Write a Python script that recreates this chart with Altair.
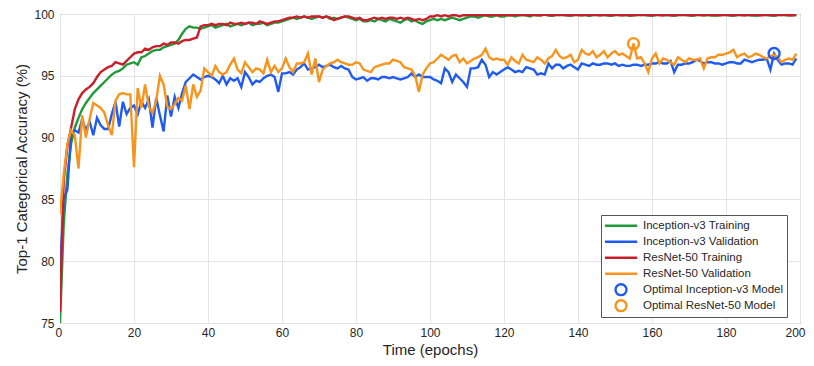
import altair as alt
import pandas as pd

epochs = list(range(200))

inc_train = [
    75.0, 83.0, 87.0, 89.5, 90.8, 91.6, 92.3, 92.8, 93.2, 93.6,
    93.9, 94.2, 94.5, 94.8, 95.1, 95.3, 95.4, 95.6, 95.9, 96.0,
    96.1, 95.9, 96.5, 96.6, 96.8, 97.0, 97.1, 97.1, 97.3, 97.4,
    97.5, 97.6, 97.9, 98.4, 98.8, 99.0, 98.9, 98.9, 98.8, 98.9,
    99.0, 99.1, 98.9, 99.0, 99.1, 99.2, 99.0, 99.1, 99.2, 99.1,
    99.2, 99.3, 99.1, 99.2, 99.2, 99.3, 99.1, 99.2, 99.3, 99.3,
    99.4, 99.5, 99.6, 99.7, 99.6, 99.7, 99.8, 99.7, 99.6, 99.7,
    99.8, 99.7, 99.8, 99.6, 99.7, 99.6, 99.7, 99.8, 99.7, 99.6,
    99.5, 99.6, 99.4, 99.4, 99.5, 99.4, 99.6, 99.5, 99.4, 99.6,
    99.5, 99.4, 99.3, 99.5, 99.6, 99.4, 99.5, 99.3, 99.2, 99.4,
    99.5, 99.6, 99.5, 99.6, 99.5, 99.6, 99.7, 99.6, 99.5, 99.6,
    99.7, 99.8, 99.8, 99.7, 99.8, 99.9, 99.8, 99.8, 99.9, 99.8,
    99.8, 99.9, 99.9, 99.8, 99.9, 99.9, 99.9, 99.8, 99.9, 99.9,
    99.9, 99.95, 99.9, 99.85, 99.9, 99.95, 99.9, 99.9, 99.85, 99.9,
    99.95, 99.9, 99.9, 99.85, 99.9, 99.95, 99.9, 99.9, 99.9, 99.85,
    99.9, 99.95, 99.9, 99.9, 99.85, 99.9, 99.9, 99.95, 99.9, 99.9,
    99.85, 99.9, 99.95, 99.9, 99.9, 99.9, 99.85, 99.9, 99.95, 99.9,
    99.9, 99.85, 99.9, 99.95, 99.9, 99.9, 99.9, 99.85, 99.9, 99.95,
    99.9, 99.9, 99.85, 99.9, 99.95, 99.9, 99.9, 99.9, 99.85, 99.9,
    99.95, 99.9, 99.9, 99.85, 99.9, 99.95, 99.9, 99.9, 99.9, 99.9,
]

res_train = [
    75.9, 86.5, 89.3, 90.8, 92.3, 93.1, 93.6, 93.9, 94.1, 94.4,
    94.9, 95.3, 95.5, 95.7, 95.8, 96.1, 96.0, 95.9, 96.2, 96.5,
    96.8, 96.9, 96.9, 97.2, 97.1, 97.3, 97.4, 97.4, 97.6, 97.5,
    97.7, 97.7, 97.6, 97.8, 97.9, 97.9, 98.0, 98.1, 99.0, 99.1,
    99.1, 99.2, 99.1, 99.2, 99.2, 99.1, 99.3, 99.2, 99.2, 99.3,
    99.2, 99.3, 99.3, 99.2, 99.4, 99.3, 99.2, 99.3, 99.4, 99.4,
    99.5, 99.6, 99.7, 99.7, 99.8, 99.7, 99.8, 99.7, 99.8, 99.8,
    99.8, 99.7, 99.8, 99.7, 99.5, 99.6, 99.7, 99.8, 99.8, 99.7,
    99.6, 99.7, 99.5, 99.5, 99.6, 99.7, 99.6, 99.7, 99.6, 99.7,
    99.7, 99.6, 99.7, 99.6, 99.7, 99.6, 99.5, 99.6, 99.5, 99.6,
    99.8, 99.8, 99.9, 99.8, 99.9, 99.8, 99.9, 99.9, 99.8, 99.9,
    99.9, 99.95, 99.9, 99.9, 99.95, 99.9, 99.9, 99.95, 99.9, 99.9,
    99.95, 99.9, 99.9, 99.95, 99.9, 99.95, 99.9, 99.9, 99.95, 99.9,
    99.9, 99.95, 99.9, 99.9, 99.95, 99.9, 99.95, 99.9, 99.9, 99.95,
    99.9, 99.9, 99.95, 99.9, 99.95, 99.9, 99.9, 99.95, 99.9, 99.9,
    99.95, 99.9, 99.9, 99.95, 99.9, 99.9, 99.95, 99.9, 99.95, 99.9,
    99.9, 99.95, 99.9, 99.9, 99.95, 99.9, 99.9, 99.95, 99.9, 99.95,
    99.9, 99.9, 99.95, 99.9, 99.9, 99.95, 99.9, 99.95, 99.9, 99.9,
    99.95, 99.9, 99.9, 99.95, 99.9, 99.9, 99.95, 99.9, 99.95, 99.9,
    99.9, 99.95, 99.9, 99.9, 99.95, 99.9, 99.95, 99.9, 99.9, 99.95,
]

inc_val = [
    79.3, 85.0, 85.8, 90.3, 90.6, 90.4, 91.5, 90.6, 91.3, 90.2,
    91.6, 91.0, 90.7, 90.7, 91.9, 92.9, 90.9, 92.9, 91.9, 92.4,
    92.6, 91.9, 92.9, 92.4, 93.1, 90.8, 93.2, 91.8, 90.5, 93.4,
    91.7, 93.3, 92.4, 93.6, 94.5, 94.8, 95.1, 94.9, 94.7, 94.9,
    95.0, 94.9, 94.7, 94.4, 95.0, 94.3, 94.8, 94.6, 94.8, 94.1,
    95.3, 94.9, 94.3, 94.6, 94.5, 94.8, 95.0, 95.1, 94.9, 93.7,
    95.2, 95.2, 95.3, 95.1, 95.5, 95.7, 96.0, 95.5, 95.6, 95.7,
    95.9, 95.7, 95.8, 95.9, 95.7, 95.6, 95.8, 95.6, 95.5, 94.9,
    94.7, 94.8, 94.9, 94.6, 94.8, 94.8, 94.7, 94.9, 94.9, 94.8,
    94.9, 94.8, 94.7, 94.8, 94.9, 95.2, 94.9, 95.1, 94.9, 94.9,
    94.9, 94.7, 94.6, 94.4, 95.6, 95.3, 94.5, 95.1, 94.8, 94.5,
    94.1, 95.6, 95.6, 95.7, 96.3, 95.9, 94.9, 95.3, 95.1, 95.3,
    95.5, 95.7, 95.5, 95.3, 95.4, 95.3, 95.7, 95.6, 95.5, 95.1,
    95.2, 95.1, 96.0, 95.6, 95.9, 95.9, 95.6, 95.8, 95.9, 95.7,
    95.5, 96.0, 95.9, 95.8, 96.0, 95.9, 95.9, 96.0, 96.0, 95.9,
    96.0, 95.8, 95.9, 95.8, 95.8, 95.9, 95.9, 95.8, 95.9, 95.9,
    96.0, 96.0, 96.1, 96.0, 96.0, 96.2, 95.3, 95.9, 95.9, 96.0,
    96.0, 96.1, 96.3, 96.2, 96.0, 96.1, 96.1, 96.0, 96.0, 95.9,
    96.0, 96.1, 96.1, 96.0, 96.0, 96.3, 96.2, 96.1, 96.2, 96.3,
    96.3, 96.4, 95.5, 96.8, 96.3, 95.9, 96.0, 96.0, 95.9, 96.4,
]

res_val = [
    83.8, 87.0, 89.5, 90.6, 90.2, 87.5, 91.8, 90.0, 91.5, 92.8,
    92.6, 92.4, 92.0, 91.0, 90.2, 93.0, 93.5, 93.6, 93.5, 93.5,
    87.6, 94.0, 92.4, 94.3, 92.5, 92.0, 93.0, 95.0, 94.3, 92.5,
    92.3, 92.7, 93.2, 93.0, 94.2, 92.3, 94.3, 93.3, 93.8, 95.6,
    95.3, 95.0, 95.8, 95.3, 95.1, 95.3, 95.9, 96.4, 95.5, 95.2,
    96.1, 95.7, 95.3, 95.6, 95.5, 95.2, 96.3, 95.3, 95.8, 95.3,
    95.6, 96.4, 95.7, 95.3, 96.0, 96.0, 96.1, 96.8, 95.1, 96.4,
    94.5, 95.5, 95.8, 96.0, 96.1, 96.3, 96.1, 96.0, 95.9, 95.9,
    96.1, 96.0, 95.5, 95.4, 95.3, 95.7, 95.8, 95.9, 96.0, 96.0,
    96.3, 96.2, 96.1, 95.7, 95.6, 95.5, 95.0, 93.7, 95.1, 95.6,
    96.0, 96.1, 96.4, 96.7, 96.5, 96.3, 96.6, 96.7, 96.1, 96.4,
    96.0, 96.2, 96.4, 96.5, 96.7, 97.2, 96.5, 96.3, 96.4, 96.3,
    96.3, 95.9, 96.5, 96.2, 96.0, 96.7, 96.3, 96.2, 96.1, 96.5,
    96.3, 96.0, 96.4, 96.6, 97.1, 96.6, 96.4, 96.5, 96.7, 96.1,
    96.3, 97.1, 96.8, 96.7, 97.0, 96.5, 96.7, 97.0, 96.5, 96.8,
    97.0, 96.7, 96.8, 96.6, 96.4, 97.6, 96.4, 96.5, 96.0, 95.3,
    96.4, 96.8, 96.0, 96.4, 96.3, 96.1, 95.9, 96.5, 96.3, 96.1,
    96.4, 96.3, 96.3, 96.4, 95.6, 96.4, 96.5, 96.5, 96.7, 96.7,
    96.8, 96.9, 97.1, 96.5, 96.7, 96.8, 96.5, 96.6, 96.8, 96.7,
    96.5, 96.4, 96.6, 96.7, 96.5, 96.1, 96.3, 96.4, 96.3, 96.8,
]

opt_epochs = [193, 155]
opt_values = [96.8, 97.6]

series_names = [
    "Inception-v3 Training",
    "Inception-v3 Validation",
    "ResNet-50 Training",
    "ResNet-50 Validation",
    "Optimal Inception-v3 Model",
    "Optimal ResNet-50 Model",
]
series_colors = ["#1f9a3a", "#1f5bf0", "#c8202b", "#f7941d", "#1f5bf0", "#f7941d"]
LINE_SYM = "M-2.95,0H2.95"
series_shapes = [LINE_SYM, LINE_SYM, LINE_SYM, LINE_SYM, "circle", "circle"]

x_ticks = list(range(0, 201, 20))
y_ticks = [75, 80, 85, 90, 95, 100]

frames = []
for name, vals in zip(series_names[:4], [inc_train, inc_val, res_train, res_val]):
    frames.append(pd.DataFrame({"epoch": epochs, "acc": vals, "series": name}))
lines_df = pd.concat(frames, ignore_index=True)
opt_df = pd.DataFrame({"epoch": opt_epochs, "acc": opt_values, "series": series_names[4:]})

FONT = "Liberation Sans"
TXT = "#262626"
PAD_LABEL = "datum.label + '\u00a0\u00a0\u00a0\u00a0\u00a0\u00a0'"

x_enc = alt.X(
    "epoch:Q",
    scale=alt.Scale(domain=[0, 200], nice=False),
    axis=alt.Axis(values=x_ticks, title="Time (epochs)", grid=True, ticks=False,
                  domain=False, labelPadding=4, titlePadding=4, titleFontSize=15,
                  labelFlush=True, labelFlushOffset=5),
)
y_enc = alt.Y(
    "acc:Q",
    scale=alt.Scale(domain=[75, 100], nice=False, zero=False),
    axis=alt.Axis(values=y_ticks, title="Top-1 Categorical Accuracy (%)", grid=True,
                  ticks=False, domain=False, labelPadding=6, titlePadding=4),
)
color_enc = alt.Color(
    "series:N",
    scale=alt.Scale(domain=series_names, range=series_colors),
    title=None,
    legend=alt.Legend(labelExpr=PAD_LABEL),
)
shape_enc = alt.Shape(
    "series:N",
    scale=alt.Scale(domain=series_names, range=series_shapes),
    title=None,
    legend=alt.Legend(labelExpr=PAD_LABEL),
)

layers = []
for name in series_names[:4]:
    layers.append(
        alt.Chart(lines_df)
        .transform_filter(alt.datum.series == name)
        .mark_line(strokeWidth=2.4, clip=True)
        .encode(x=x_enc, y=y_enc, color=color_enc)
    )

points = (
    alt.Chart(opt_df)
    .mark_point(filled=False, size=121, strokeWidth=2.4, opacity=1)
    .encode(x=x_enc, y=y_enc, color=color_enc, shape=shape_enc)
)

chart = (
    alt.layer(*layers, points)
    .properties(
        width=740,
        height=309,
        padding={"left": 52, "top": 6, "right": 6, "bottom": 35},
        autosize=alt.AutoSizeParams(type="none"),
        background="white",
    )
    .configure_view(stroke="#4d4d4d", strokeWidth=1)
    .configure_axis(
        labelFont=FONT,
        titleFont=FONT,
        labelFontSize=12,
        titleFontSize=15,
        titleFontWeight="normal",
        labelColor=TXT,
        titleColor=TXT,
        gridColor="#e4e4e4",
        gridWidth=1,
    )
    .configure_legend(
        orient="none",
        legendX=541,
        legendY=201,
        padding=4,
        strokeColor="#555555",
        fillColor="white",
        cornerRadius=0,
        symbolSize=121,
        symbolStrokeWidth=2.4,
        symbolOffset=9,
        labelOffset=15,
        labelFont=FONT,
        labelFontSize=11.5,
        labelColor=TXT,
        rowPadding=2,
        clipHeight=13.5,
        labelLimit=300,
    )
)

chart.save("out.html", embed_options={"renderer": "svg", "actions": False})
